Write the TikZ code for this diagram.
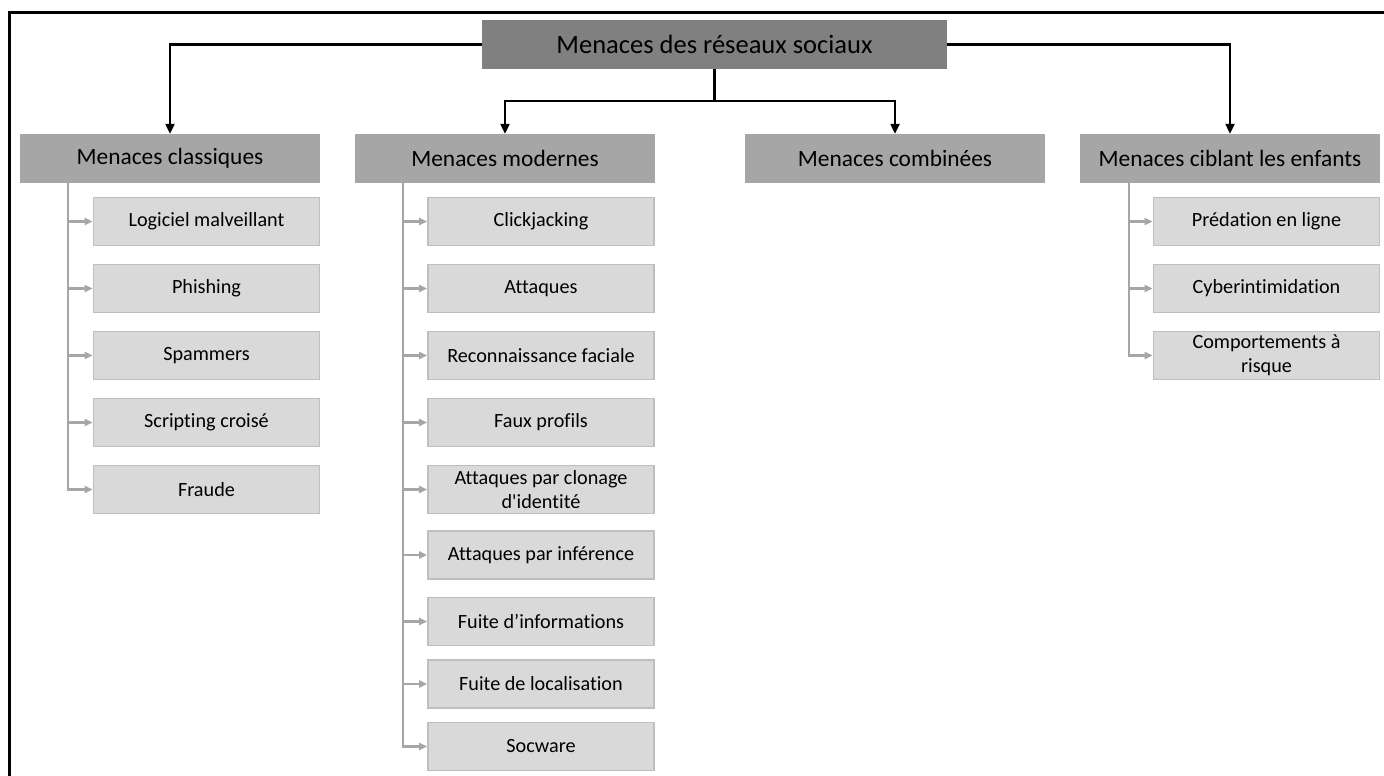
\documentclass[tikz,border=0pt]{standalone}
\usepackage{fontspec}
\setmainfont{Carlito}[Ligatures={TeXOff,NoCommon}]
\usetikzlibrary{arrows.meta}
\definecolor{rootgray}{RGB}{128,128,128}
\definecolor{headgray}{RGB}{166,166,166}
\definecolor{leafgray}{RGB}{217,217,217}
\definecolor{leafedge}{RGB}{191,191,191}
\definecolor{busgray}{RGB}{166,166,166}
\tikzset{
  rootbox/.style={fill=rootgray, minimum width=465, minimum height=49, inner sep=0pt, font=\fontsize{26.5}{30}\selectfont},
  headbox/.style={fill=headgray, minimum width=300, minimum height=49, inner sep=0pt, font=\fontsize{23.4}{27}\selectfont},
  leafbox/.style={fill=leafgray, draw=leafedge, line width=1.8pt, minimum width=226, minimum height=48, inner sep=0pt, align=center, font=\fontsize{20.2}{24}\selectfont},
  mainlink/.style={line width=2.2pt, -{Triangle[length=10pt, width=9pt]}},
  buslink/.style={draw=busgray, line width=2.2pt, -{Triangle[length=8pt, width=7pt]}},
}
\begin{document}
\begin{tikzpicture}[x=1pt, y=-1pt]
\useasboundingbox (0,0) rectangle (1384,776);
% frame
\draw[line width=3pt] (9,776) -- (9,13) -- (1384,13);

% root and category headers
\node[rootbox] (root) at (714.5,44.5) {Menaces des réseaux sociaux};
\node[headbox] (cls) at (170,158.5) {Menaces classiques};
\node[headbox] (mod) at (505,158.5) {Menaces modernes};
\node[headbox] (cmb) at (895,158.5) {Menaces combinées};
\node[headbox] (enf) at (1230,158.5) {Menaces ciblant les enfants};

% root connectors
\draw[mainlink] (root.west) -| (cls.north);
\draw[mainlink] (root.east) -| (enf.north);
\coordinate (split) at (714.5,101);
\draw[line width=2.2pt] (root.south) -- (split);
\draw[mainlink] (split) -| (mod.north);
\draw[mainlink] (split) -| (cmb.north);

% classic threats
\node[leafbox] (c1) at (206.5,221.5) {Logiciel malveillant};
\node[leafbox] (c2) at (206.5,288.5) {Phishing};
\node[leafbox] (c3) at (206.5,355.5) {Spammers};
\node[leafbox] (c4) at (206.5,422.5) {Scripting croisé};
\node[leafbox] (c5) at (206.5,489.5) {Fraude};
\coordinate (clsbus) at (68,183);
\foreach \n in {c1,c2,c3,c4,c5} \draw[buslink] (clsbus) |- (\n.west);

% modern threats
\node[leafbox] (m1) at (541,221.5) {Clickjacking};
\node[leafbox] (m2) at (541,288.5) {Attaques};
\node[leafbox] (m3) at (541,355.5) {Reconnaissance faciale};
\node[leafbox] (m4) at (541,422.5) {Faux profils};
\node[leafbox] (m5) at (541,489.5) {Attaques par clonage\\d'identité};
\node[leafbox] (m6) at (541,555) {Attaques par inférence};
\node[leafbox] (m7) at (541,621.5) {Fuite d’informations};
\node[leafbox] (m8) at (541,684) {Fuite de localisation};
\node[leafbox] (m9) at (541,746.5) {Socware};
\coordinate (modbus) at (403,183);
\foreach \n in {m1,m2,m3,m4,m5,m6,m7,m8,m9} \draw[buslink] (modbus) |- (\n.west);

% threats targeting children
\node[leafbox] (e1) at (1266.5,221.5) {Prédation en ligne};
\node[leafbox] (e2) at (1266.5,288.5) {Cyberintimidation};
\node[leafbox] (e3) at (1266.5,355.5) {Comportements à\\risque};
\coordinate (enfbus) at (1129,183);
\foreach \n in {e1,e2,e3} \draw[buslink] (enfbus) |- (\n.west);
\end{tikzpicture}
\end{document}
